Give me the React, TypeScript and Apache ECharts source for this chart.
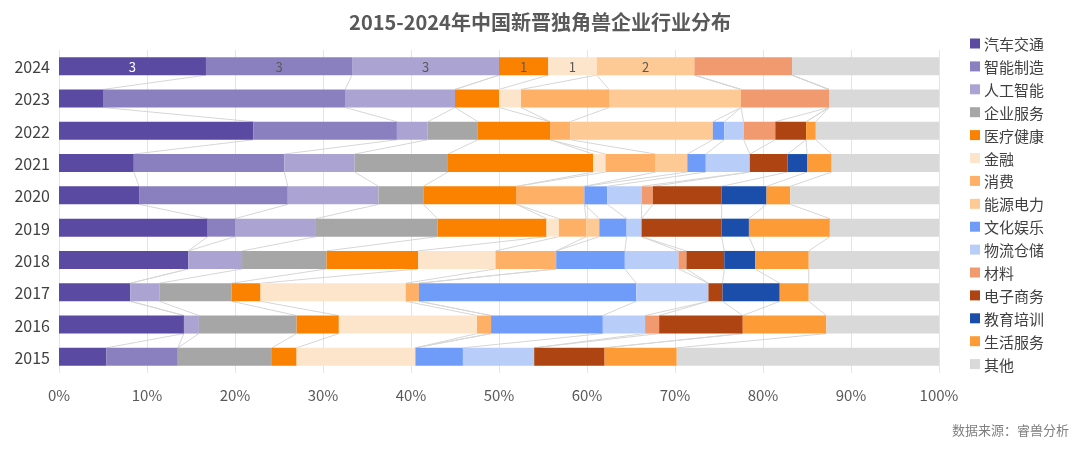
import React, { useEffect, useRef } from "react";
import * as echarts from "echarts";

const years = ["2015", "2016", "2017", "2018", "2019", "2020", "2021", "2022", "2023", "2024"];
const industries = ["汽车交通", "智能制造", "人工智能", "企业服务", "医疗健康", "金融", "消费", "能源电力", "文化娱乐", "物流仓储", "材料", "电子商务", "教育培训", "生活服务", "其他"];
const colors = ["#5a4aa2", "#8a80c0", "#aba4d3", "#a6a6a6", "#fa8200", "#fde5cb", "#fdb066", "#fdc994", "#6f9cf8", "#b9cdf9", "#f19a70", "#ad4411", "#1a4eaa", "#fd9c36", "#d9d9d9"];

// share (%) per year, 2015 → 2024
const autoTransport = [5.4, 14.2, 8.1, 14.7, 16.9, 9.1, 8.5, 22.1, 5.0, 16.7];
const smartManufacturing = [8.1, 0, 0, 0, 3.1, 16.9, 17.1, 16.3, 27.5, 16.6];
const artificialIntelligence = [0, 1.7, 3.3, 6.1, 9.2, 10.3, 8.0, 3.5, 12.5, 16.7];
const enterpriseService = [10.7, 11.1, 8.2, 9.6, 13.8, 5.1, 10.6, 5.7, 0, 0];
const healthcare = [2.8, 4.8, 3.3, 10.4, 12.4, 10.6, 16.5, 8.2, 5.0, 5.6];
const finance = [13.5, 15.7, 16.5, 8.8, 1.4, 0, 1.4, 0, 2.5, 5.5];
const consumer = [0, 1.6, 1.5, 6.9, 3.1, 7.7, 5.7, 2.3, 10.0, 0];
const energyPower = [0, 0, 0, 0, 1.5, 0, 3.6, 16.2, 15.0, 11.1];
const cultureEntertainment = [5.4, 12.7, 24.7, 7.8, 3.1, 2.6, 2.1, 1.3, 0, 0];
const logistics = [8.1, 4.8, 8.2, 6.1, 1.7, 3.9, 5.0, 2.2, 0, 0];
const materials = [0, 1.6, 0, 0.9, 0, 1.3, 0, 3.6, 10.0, 11.1];
const ecommerce = [8.0, 9.5, 1.6, 4.3, 9.1, 7.8, 4.3, 3.5, 0, 0];
const education = [0, 0, 6.5, 3.5, 3.1, 5.1, 2.2, 0, 0, 0];
const lifeService = [8.2, 9.5, 3.3, 6.1, 9.2, 2.7, 2.8, 1.1, 0, 0];
const others = [29.8, 12.8, 14.8, 14.8, 12.4, 16.9, 12.2, 14.0, 12.5, 16.7];

// counts shown on the 2024 bar
const labels2024 = [3, 3, 3, null, 1, 1, null, 2, null, null, null, null, null, null, null];

const xTicks = ["0%", "10%", "20%", "30%", "40%", "50%", "60%", "70%", "80%", "90%", "100%"];

const seriesValues = [autoTransport, smartManufacturing, artificialIntelligence, enterpriseService, healthcare, finance, consumer, energyPower, cultureEntertainment, logistics, materials, ecommerce, education, lifeService, others];

const FONT = "'Noto Sans CJK SC', 'Noto Sans', sans-serif";

export default function App() {
  const ref = useRef<HTMLDivElement>(null);
  useEffect(() => {
    if (!ref.current) return;
    const chart = echarts.init(ref.current, null, { renderer: "svg" });

    // cumulative end positions for connector lines
    const cum: number[][] = [];
    for (let k = 0; k < seriesValues.length; k++) {
      cum.push(years.map((_, i) => {
        let s = 0;
        for (let j = 0; j <= k; j++) s += seriesValues[j][i];
        return s;
      }));
    }
    const half = 9;

    const barSeries = industries.map((name, k) => ({
      name,
      type: "bar",
      stack: "total",
      barWidth: 18,
      itemStyle: { color: colors[k] },
      z: 3,
      data: seriesValues[k].map((v, i) => {
        if (i === years.length - 1 && labels2024[k] != null) {
          return {
            value: v,
            label: {
              show: true,
              position: "inside",
              formatter: String(labels2024[k]),
              color: k === 0 ? "#ffffff" : "#595959",
              fontSize: 13,
              fontFamily: FONT,
            },
          };
        }
        return v;
      }),
    }));

    const connector = {
      type: "custom",
      name: "connector",
      silent: true,
      z: 1,
      coordinateSystem: "cartesian2d",
      encode: { x: 0, y: 1 },
      data: years.slice(0, years.length - 1).map((_, i) => [0, i]),
      renderItem: (params: any, api: any) => {
        const i = params.dataIndex;
        const children: any[] = [];
        for (let k = 0; k < seriesValues.length - 1; k++) {
          const pu = api.coord([cum[k][i + 1], i + 1]);
          const pl = api.coord([cum[k][i], i]);
          children.push({
            type: "line",
            shape: { x1: pu[0], y1: pu[1] + half, x2: pl[0], y2: pl[1] - half },
            style: { stroke: "#d6d6d6", lineWidth: 1 },
          });
        }
        return { type: "group", children };
      },
    };

    chart.setOption({
      animation: false,
      textStyle: { fontFamily: FONT },
      title: {
        text: "2015-2024年中国新晋独角兽企业行业分布",
        left: "center",
        top: 6,
        textStyle: { fontSize: 20, fontWeight: "bold", color: "#595959", fontFamily: FONT },
      },
      legend: {
        orient: "vertical",
        left: 965,
        top: 31,
        itemWidth: 10,
        itemHeight: 10,
        itemGap: 7.9,
        icon: "rect",
        data: industries,
        textStyle: { fontSize: 15, color: "#404040", fontFamily: FONT, padding: [0, 0, 0, -1] },
      },
      grid: { left: 59, right: 141, top: 50, height: 323, containLabel: false },
      xAxis: {
        type: "value",
        min: 0,
        max: 100,
        interval: 10,
        axisLine: { show: false },
        axisTick: { show: false },
        splitLine: { show: true, lineStyle: { color: "#e4e4e4" } },
        axisLabel: {
          fontSize: 15,
          color: "#595959",
          margin: 14,
          fontFamily: FONT,
          formatter: (v: number) => xTicks[Math.round(v / 10)],
        },
      },
      yAxis: {
        type: "category",
        data: years,
        axisLine: { show: false },
        axisTick: { show: false },
        axisLabel: { fontSize: 16, color: "#404040", margin: 9, fontFamily: FONT },
      },
      graphic: [
        {
          type: "text",
          right: 11,
          top: 423,
          style: { text: "数据来源：睿兽分析", fontSize: 13, fill: "#7f7f7f", fontFamily: FONT },
        },
      ],
      series: [...barSeries, connector],
    });
    return () => chart.dispose();
  }, []);
  return <div ref={ref} style={{ position: "fixed", left: 0, top: 0, width: 1080, height: 452 }} />;
}
